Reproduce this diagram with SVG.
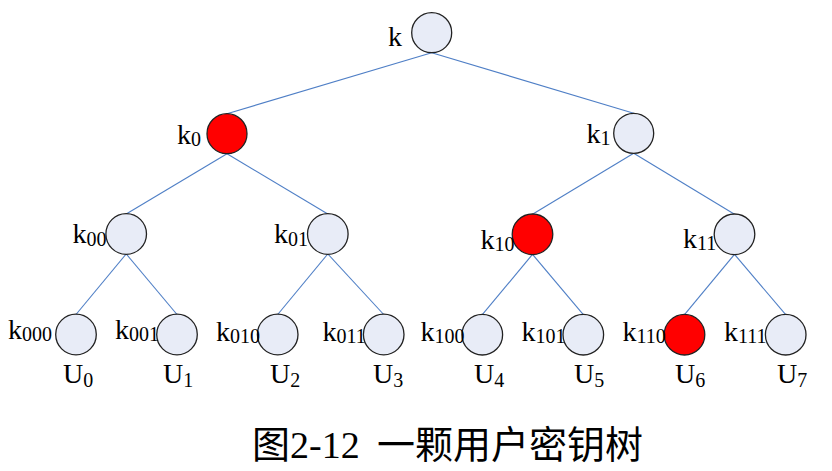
<svg xmlns="http://www.w3.org/2000/svg" width="832" height="471" viewBox="0 0 832 471">
<style>
.n{fill:#E8ECF7;stroke:#222;stroke-width:1.3}
.r{fill:#FF0000;stroke:#222;stroke-width:1.3}
.e{stroke:#4F7FC6;stroke-width:1.1;fill:none}
.t{font-family:"Liberation Serif",serif;font-size:28px;fill:#000}
.s{font-size:20px}
.c{font-family:"Liberation Serif","Noto Sans CJK SC",serif;font-size:38px;fill:#000}
</style>
<rect width="832" height="471" fill="#fff"/>
<g id="connectors">
<line class="e" x1="431.7" y1="52.7" x2="227" y2="113.7"/>
<line class="e" x1="431.7" y1="52.7" x2="633.7" y2="113.3"/>
<line class="e" x1="227" y1="153.7" x2="126.2" y2="214"/>
<line class="e" x1="227" y1="153.7" x2="327.8" y2="214"/>
<line class="e" x1="633.7" y1="153.3" x2="532.5" y2="214.3"/>
<line class="e" x1="633.7" y1="153.3" x2="734.5" y2="214.3"/>
<line class="e" x1="126.2" y1="254" x2="76" y2="314.5"/>
<line class="e" x1="126.2" y1="254" x2="177" y2="314.5"/>
<line class="e" x1="327.8" y1="254" x2="277.7" y2="314.5"/>
<line class="e" x1="327.8" y1="254" x2="383.7" y2="314.5"/>
<line class="e" x1="532.5" y1="254.3" x2="482.3" y2="314.7"/>
<line class="e" x1="532.5" y1="254.3" x2="583.3" y2="314.7"/>
<line class="e" x1="734.5" y1="254.3" x2="684.5" y2="314.7"/>
<line class="e" x1="734.5" y1="254.3" x2="785.7" y2="314.7"/>
</g>
<g id="node-k"><circle class="n" cx="431.7" cy="32.7" r="20"/><text class="t" x="388" y="46">k</text></g>
<g id="node-k0"><circle class="r" cx="227" cy="133.7" r="20"/><text class="t" x="177" y="144">k<tspan class="s" dy="2">0</tspan></text></g>
<g id="node-k1"><circle class="n" cx="633.7" cy="133.3" r="20"/><text class="t" x="586.5" y="143">k<tspan class="s" dy="2">1</tspan></text></g>
<g id="node-k00"><circle class="n" cx="126.2" cy="234" r="20.3"/><text class="t" x="72.5" y="243">k<tspan class="s" dy="3">00</tspan></text></g>
<g id="node-k01"><circle class="n" cx="327.8" cy="234" r="20.3"/><text class="t" x="274" y="243">k<tspan class="s" dy="3">01</tspan></text></g>
<g id="node-k10"><circle class="r" cx="532.5" cy="234.3" r="20.3"/><text class="t" x="480.5" y="249">k<tspan class="s" dy="2">10</tspan></text></g>
<g id="node-k11"><circle class="n" cx="734.5" cy="234.3" r="20.3"/><text class="t" x="683" y="248">k<tspan class="s" dy="2">11</tspan></text></g>
<g id="node-k000"><circle class="n" cx="76" cy="334.5" r="20.3"/><text class="t" x="8" y="339">k<tspan class="s" dy="2">000</tspan></text><text class="t" x="63" y="383">U<tspan class="s" dy="4">0</tspan></text></g>
<g id="node-k001"><circle class="n" cx="177" cy="334.5" r="20.3"/><text class="t" x="115" y="339">k<tspan class="s" dy="2">001</tspan></text><text class="t" x="163" y="383">U<tspan class="s" dy="4">1</tspan></text></g>
<g id="node-k010"><circle class="n" cx="277.7" cy="334.5" r="20.3"/><text class="t" x="216" y="341">k<tspan class="s" dy="2">010</tspan></text><text class="t" x="270" y="383">U<tspan class="s" dy="4">2</tspan></text></g>
<g id="node-k011"><circle class="n" cx="383.7" cy="334.5" r="20.3"/><text class="t" x="322.5" y="341">k<tspan class="s" dy="2">011</tspan></text><text class="t" x="373" y="383">U<tspan class="s" dy="4">3</tspan></text></g>
<g id="node-k100"><circle class="n" cx="482.3" cy="334.7" r="20.3"/><text class="t" x="420.5" y="341">k<tspan class="s" dy="2">100</tspan></text><text class="t" x="474" y="383">U<tspan class="s" dy="4">4</tspan></text></g>
<g id="node-k101"><circle class="n" cx="583.3" cy="334.7" r="20.3"/><text class="t" x="521.5" y="341">k<tspan class="s" dy="2">101</tspan></text><text class="t" x="574" y="383">U<tspan class="s" dy="4">5</tspan></text></g>
<g id="node-k110"><circle class="r" cx="684.5" cy="334.7" r="20.3"/><text class="t" x="622.5" y="341">k<tspan class="s" dy="2">110</tspan></text><text class="t" x="675" y="383">U<tspan class="s" dy="4">6</tspan></text></g>
<g id="node-k111"><circle class="n" cx="785.7" cy="334.7" r="20.3"/><text class="t" x="724" y="341">k<tspan class="s" dy="2">111</tspan></text><text class="t" x="777" y="383">U<tspan class="s" dy="4">7</tspan></text></g>
<g id="caption"><text class="c" y="458"><tspan x="252">图</tspan><tspan x="290">2-12</tspan><tspan x="377">一颗用户密钥树</tspan></text></g>
</svg>
